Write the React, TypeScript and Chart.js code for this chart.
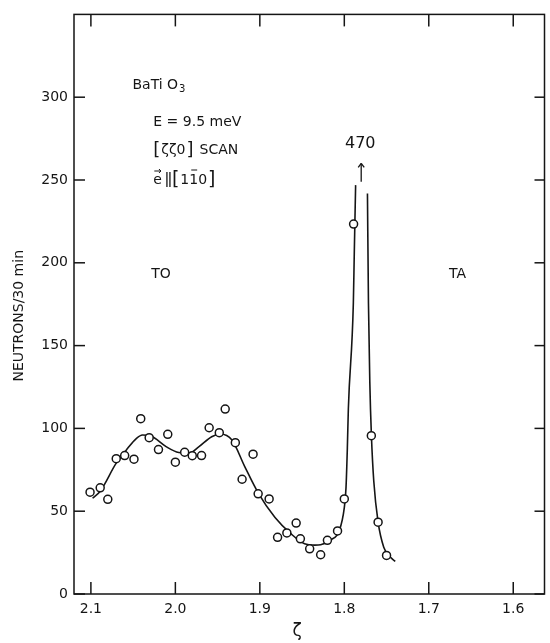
import React, { useEffect, useRef } from "react";
import { Chart, registerables } from "chart.js";

Chart.register(...registerables);

const xTicks = [2.1, 2.0, 1.9, 1.8, 1.7, 1.6];
const yTicks = [0, 50, 100, 150, 200, 250, 300];

// Measured counts (open circles)
const zetaObs = [2.101, 2.089, 2.08, 2.07, 2.06, 2.049, 2.041, 2.031, 2.02, 2.009, 2.0, 1.989, 1.98, 1.969, 1.96, 1.948, 1.941, 1.929, 1.921, 1.908, 1.902, 1.889, 1.879, 1.868, 1.857, 1.852, 1.841, 1.828, 1.82, 1.808, 1.8, 1.789, 1.768, 1.76, 1.75];
const countsObs = [61.5, 64.1, 57.2, 81.7, 83.6, 81.4, 105.9, 94.4, 87.2, 96.4, 79.6, 85.6, 83.5, 83.6, 100.4, 97.4, 111.7, 91.4, 69.3, 84.4, 60.5, 57.4, 34.2, 36.9, 42.8, 33.3, 27.3, 23.7, 32.4, 38.1, 57.4, 223.4, 95.6, 43.4, 23.3];

// Fitted curve, TO branch and left side of TA peak
const zetaFitTO = [2.098, 2.089, 2.07, 2.058, 2.046, 2.039, 2.029, 2.011, 1.996, 1.984, 1.972, 1.957, 1.947, 1.933, 1.918, 1.902, 1.882, 1.863, 1.847, 1.835, 1.828, 1.816, 1.806, 1.8, 1.798, 1.7964, 1.7952, 1.7893, 1.7882, 1.7866];
const countsFitTO = [57.8, 62.1, 79.0, 87.0, 94.0, 96.0, 95.4, 89.0, 85.4, 85.0, 89.0, 95.0, 96.6, 93.0, 77.1, 61.1, 46.2, 36.3, 30.3, 29.5, 29.7, 32.7, 38.2, 52.2, 64.1, 88.0, 111.9, 175.6, 205.5, 246.9];

// Fitted curve, right side of TA peak
const zetaFitTA = [1.7726, 1.7714, 1.7698, 1.7679, 1.7651, 1.76, 1.7533, 1.7456, 1.7397];
const countsFitTA = [241.8, 175.6, 127.8, 95.6, 68.1, 43.4, 28.3, 22.3, 19.7];

const FONT = "'DejaVu Sans', sans-serif";
const INK = "#151515";

const toPts = (xs: number[], ys: number[]) => xs.map((x, i) => ({ x, y: ys[i] }));

const framePlugin = {
  id: "frame",
  afterDraw(chart: any) {
    const { ctx, chartArea } = chart;
    const { left, right, top, bottom } = chartArea;
    const xs = chart.scales.x;
    const ys = chart.scales.y;
    const X = (v: number) => xs.getPixelForValue(v);
    const Y = (v: number) => ys.getPixelForValue(v);
    ctx.save();
    ctx.strokeStyle = INK;
    ctx.fillStyle = INK;
    ctx.lineWidth = 1.5;
    ctx.strokeRect(left, top, right - left, bottom - top);
    const seg = (x1: number, y1: number, x2: number, y2: number) => {
      ctx.beginPath();
      ctx.moveTo(x1, y1);
      ctx.lineTo(x2, y2);
      ctx.stroke();
    };
    xTicks.forEach((v) => {
      const px = X(v);
      seg(px, bottom, px, bottom - 12);
      seg(px, top, px, top + 12);
    });
    yTicks.forEach((v) => {
      const py = Y(v);
      seg(left, py, left + 11, py);
      seg(right, py, right - 10, py);
    });

    // annotations
    ctx.textBaseline = "middle";
    ctx.textAlign = "left";
    ctx.font = `14px ${FONT}`;
    ctx.fillText("BaTi O", X(2.0508), Y(307));
    const wB = ctx.measureText("BaTi O").width;
    ctx.font = `10px ${FONT}`;
    ctx.fillText("3", X(2.0508) + wB + 1, Y(307) + 4);

    ctx.font = `14px ${FONT}`;
    const tx = X(2.0261);
    ctx.fillText("E = 9.5 meV", tx, Y(285));
    ctx.font = `18px ${FONT}`;
    ctx.fillText("[", tx, Y(268));
    let cx = tx + ctx.measureText("[").width + 1;
    ctx.font = `14px ${FONT}`;
    ctx.fillText("ζζ0", cx, Y(268));
    cx += ctx.measureText("ζζ0").width + 1;
    ctx.font = `18px ${FONT}`;
    ctx.fillText("]", cx, Y(268));
    cx += ctx.measureText("]").width + 6;
    ctx.font = `14px ${FONT}`;
    ctx.fillText("SCAN", cx, Y(268));

    // e-vector line
    const ey = Y(250);
    ctx.fillText("e", tx, ey);
    const we = ctx.measureText("e").width;
    ctx.lineWidth = 1;
    seg(tx + 1, ey - 9, tx + we - 1, ey - 9);
    seg(tx + we - 3, ey - 11, tx + we - 1, ey - 9);
    seg(tx + we - 3, ey - 7, tx + we - 1, ey - 9);
    let ex = tx + we + 5;
    ctx.lineWidth = 1.3;
    seg(ex, ey - 8, ex, ey + 7);
    seg(ex + 3, ey - 8, ex + 3, ey + 7);
    ex += 5;
    ctx.font = `19px ${FONT}`;
    ctx.fillText("[", ex, ey);
    ex += ctx.measureText("[").width + 1;
    ctx.font = `14px ${FONT}`;
    ctx.fillText("1", ex, ey);
    ex += ctx.measureText("1").width;
    const w1 = ctx.measureText("1").width;
    ctx.fillText("1", ex, ey);
    ctx.lineWidth = 1;
    seg(ex + 2, ey - 10, ex + w1 - 1, ey - 10);
    ex += w1;
    ctx.fillText("0", ex, ey);
    ex += ctx.measureText("0").width + 1;
    ctx.font = `19px ${FONT}`;
    ctx.fillText("]", ex, ey);

    // 470 label and arrow
    ctx.font = `16px ${FONT}`;
    ctx.textAlign = "center";
    ctx.fillText("470", X(1.7811), Y(272));
    ctx.lineWidth = 1.3;
    const ax = X(1.78);
    seg(ax, Y(249), ax, Y(260));
    seg(ax - 3, Y(260) + 4, ax, Y(260));
    seg(ax + 3, Y(260) + 4, ax, Y(260));

    ctx.font = `14px ${FONT}`;
    ctx.fillText("TO", X(2.017), Y(193));
    ctx.fillText("TA", X(1.666), Y(193));

    // axis titles
    ctx.font = `17px ${FONT}`;
    ctx.fillText("ζ", X(1.856), bottom + 38);
    ctx.save();
    ctx.translate(19, Y(168));
    ctx.rotate(-Math.PI / 2);
    ctx.font = `14px ${FONT}`;
    ctx.fillText("NEUTRONS/30 min", 0, 0);
    ctx.restore();

    ctx.restore();
  },
};

export default function App() {
  const ref = useRef<HTMLCanvasElement | null>(null);
  useEffect(() => {
    if (!ref.current) return;
    const chart = new Chart(ref.current, {
      type: "line",
      data: {
        datasets: [
          {
            type: "scatter",
            label: "Observed",
            data: toPts(zetaObs, countsObs),
            showLine: false,
            pointRadius: 4,
            pointBorderWidth: 1.5,
            pointBackgroundColor: "#ffffff",
            pointBorderColor: INK,
            order: 0,
          } as any,
          {
            label: "Fit TO",
            data: toPts(zetaFitTO, countsFitTO),
            borderColor: INK,
            borderWidth: 1.6,
            pointRadius: 0,
            fill: false,
            cubicInterpolationMode: "monotone",
            order: 1,
          },
          {
            label: "Fit TA",
            data: toPts(zetaFitTA, countsFitTA),
            borderColor: INK,
            borderWidth: 1.6,
            pointRadius: 0,
            fill: false,
            cubicInterpolationMode: "monotone",
            order: 2,
          },
        ],
      },
      options: {
        animation: false,
        responsive: false,
        maintainAspectRatio: false,
        layout: { padding: { top: 7, right: 1, left: 0, bottom: 0 } },
        plugins: { legend: { display: false }, tooltip: { enabled: false } },
        scales: {
          x: {
            type: "linear",
            reverse: true,
            min: 1.563,
            max: 2.12,
            afterBuildTicks: (s: any) => {
              s.ticks = xTicks.map((v) => ({ value: v }));
            },
            afterFit: (s: any) => {
              s.height = 49;
            },
            grid: { display: false, drawTicks: false },
            border: { display: false },
            ticks: {
              autoSkip: false,
              maxRotation: 0,
              padding: 7,
              color: INK,
              font: { family: FONT, size: 14 },
              callback: (v: any) => Number(v).toFixed(1),
            },
          },
          y: {
            type: "linear",
            min: 0,
            max: 350,
            afterBuildTicks: (s: any) => {
              s.ticks = yTicks.map((v) => ({ value: v }));
            },
            afterFit: (s: any) => {
              s.width = 74;
            },
            grid: { display: false, drawTicks: false },
            border: { display: false },
            ticks: {
              autoSkip: false,
              padding: 6,
              color: INK,
              font: { family: FONT, size: 14 },
              callback: (v: any) => String(v),
            },
          },
        },
      },
      plugins: [framePlugin],
    });
    return () => chart.destroy();
  }, []);
  return (
    <div style={{ position: "fixed", left: 0, top: 0, width: 550, height: 643, background: "#fff" }}>
      <canvas ref={ref} width={550} height={643} style={{ width: 550, height: 643, display: "block" }} />
    </div>
  );
}
